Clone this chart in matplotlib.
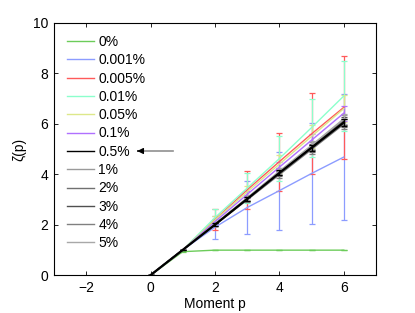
import matplotlib
matplotlib.use("Agg")
import matplotlib.pyplot as plt

plt.rcParams['font.family'] = ['Liberation Sans', 'DejaVu Sans']
plt.rcParams['font.size'] = 10

# moments and scaling exponents zeta(p) for each noise level
p = [0, 1, 2, 3, 4, 5, 6]
labels = ["0%", "0.001%", "0.005%", "0.01%", "0.05%", "0.1%", "0.5%",
          "1%", "2%", "3%", "4%", "5%"]

zeta_0 = [0, 0.93, 0.99, 0.99, 0.99, 0.99, 0.99]
zeta_0001 = [0, 1.0, 1.9, 2.68, 3.35, 4.03, 4.68]
zeta_0005 = [0, 1.0, 2.2, 3.38, 4.5, 5.6, 6.65]
zeta_001 = [0, 1.0, 2.28, 3.45, 4.62, 5.85, 7.1]
zeta_005 = [0, 1.0, 2.18, 3.3, 4.4, 5.5, 6.6]
zeta_01 = [0, 1.0, 2.12, 3.2, 4.28, 5.35, 6.42]
zeta_05 = [0, 1.0, 2.0, 3.02, 4.05, 5.05, 6.05]
zeta_1 = [0, 1.0, 2.02, 3.05, 4.1, 5.12, 6.15]
zeta_2 = [0, 1.0, 2.0, 3.0, 4.02, 5.02, 6.02]
zeta_3 = [0, 1.0, 2.01, 3.03, 4.06, 5.08, 6.1]
zeta_4 = [0, 1.0, 1.99, 2.98, 3.98, 4.98, 5.98]
zeta_5 = [0, 1.0, 2.03, 3.07, 4.12, 5.15, 6.2]

err_0 = [0, 0.01, 0.01, 0.01, 0.01, 0.01, 0.01]
err_0001 = [0, 0, 0.45, 1.05, 1.55, 2.0, 2.5]
err_0005 = [0, 0, 0.42, 0.75, 1.15, 1.6, 2.05]
err_001 = [0, 0, 0.35, 0.6, 0.9, 1.15, 1.4]
err_005 = [0, 0, 0.15, 0.25, 0.35, 0.45, 0.55]
err_01 = [0, 0, 0.1, 0.15, 0.2, 0.25, 0.3]
err_05 = [0, 0, 0.05, 0.08, 0.1, 0.12, 0.15]
err_1 = [0, 0, 0.06, 0.1, 0.13, 0.16, 0.2]
err_2 = [0, 0, 0.05, 0.08, 0.1, 0.12, 0.15]
err_3 = [0, 0, 0.05, 0.08, 0.1, 0.12, 0.15]
err_4 = [0, 0, 0.06, 0.1, 0.13, 0.16, 0.2]
err_5 = [0, 0, 0.06, 0.1, 0.13, 0.16, 0.2]

series = [zeta_0, zeta_0001, zeta_0005, zeta_001, zeta_005, zeta_01, zeta_05,
          zeta_1, zeta_2, zeta_3, zeta_4, zeta_5]
errors = [err_0, err_0001, err_0005, err_001, err_005, err_01, err_05,
          err_1, err_2, err_3, err_4, err_5]
colors = ["#6ccc5a", "#8c9cff", "#ff5a5a", "#8cffcc", "#dde88a", "#b070ff",
          "#000000", "#9a9a9a", "#707070", "#505050", "#808080", "#a8a8a8"]

fig = plt.figure(figsize=(4.15, 3.13), dpi=100)
ax = fig.add_axes([0.130, 0.121, 0.776, 0.806])

for i in range(len(series)):
    lw = 1.6 if labels[i] == "0.5%" else 1.0
    z = 5 if labels[i] == "0.5%" else 2
    ax.errorbar(p, series[i], yerr=errors[i], color=colors[i], lw=lw,
                elinewidth=0.9, capsize=2.5, capthick=0.9, label=labels[i],
                zorder=z)

# arrow pointing at the 0.5% entry
ax.plot([0.7, -0.3], [4.92, 4.92], color="#909090", lw=1.2)
ax.annotate("", xy=(-0.5, 4.92), xytext=(-0.3, 4.92),
            arrowprops=dict(arrowstyle="-|>", color="black", lw=0.8,
                            mutation_scale=9))

handles, labs = ax.get_legend_handles_labels()
handles = [h[0] for h in handles]
leg = ax.legend(handles, labs, loc="upper left", bbox_to_anchor=(0.039, 0.952),
                frameon=False, handlelength=2.0, handletextpad=0.3,
                labelspacing=0.31, borderpad=0, borderaxespad=0, fontsize=10)
for ln in leg.get_lines():
    ln.set_linewidth(1.0)

ax.set_xlim(-3, 7)
ax.set_ylim(0, 10)
ax.set_xticks([-2, 0, 2, 4, 6])
ax.set_yticks([0, 2, 4, 6, 8, 10])
ax.tick_params(direction="in", top=True, right=True, length=3, width=0.6,
               labelsize=10, pad=4)
for s in ax.spines.values():
    s.set_linewidth(0.8)
ax.set_xlabel("Moment p", fontsize=10, labelpad=2)
ax.set_ylabel("ζ(p)", fontsize=10, labelpad=5)

fig.savefig("out.png", dpi=100)
